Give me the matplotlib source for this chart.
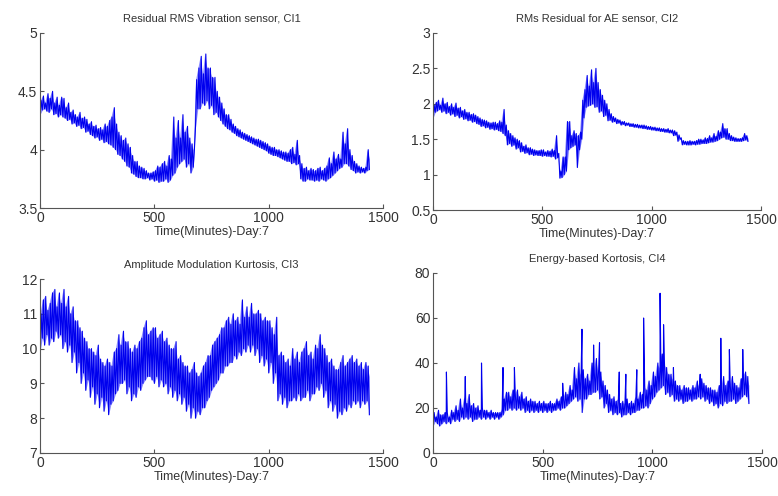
import numpy as np
import matplotlib.pyplot as plt
from matplotlib.ticker import FuncFormatter

plt.rcParams['font.family'] = ['Liberation Sans', 'DejaVu Sans']

# sample times (minutes), one low / high reading per 10-minute bin
t_bins = list(range(0, 1441, 10))

ci1_lo = [4.30, 4.34, 4.35, 4.33, 4.32, 4.35, 4.30, 4.31, 4.28, 4.30,
          4.28, 4.27, 4.25, 4.26, 4.22, 4.23, 4.20, 4.21, 4.18, 4.19,
          4.15, 4.16, 4.13, 4.12, 4.10, 4.11, 4.08, 4.09, 4.06, 4.07,
          4.05, 4.04, 4.02, 4.00, 3.96, 3.95, 3.92, 3.90, 3.86, 3.85,
          3.80, 3.79, 3.77, 3.76, 3.76, 3.75, 3.75, 3.76, 3.74, 3.75,
          3.73, 3.74, 3.72, 3.73, 3.73, 3.75, 3.72, 3.74, 3.78, 3.80,
          3.85, 3.88, 3.90, 3.92, 3.85, 3.88, 3.80, 3.85, 4.20, 4.35,
          4.35, 4.40, 4.38, 4.42, 4.35, 4.38, 4.30, 4.32, 4.28, 4.25,
          4.22, 4.20, 4.18, 4.17, 4.15, 4.14, 4.12, 4.11, 4.10, 4.09,
          4.08, 4.07, 4.06, 4.05, 4.04, 4.03, 4.02, 4.01, 4.00, 3.99,
          3.97, 3.96, 3.95, 3.95, 3.94, 3.93, 3.92, 3.91, 3.90, 3.90,
          3.88, 3.89, 3.87, 3.88, 3.75, 3.73, 3.73, 3.75, 3.74, 3.74,
          3.73, 3.74, 3.73, 3.75, 3.74, 3.73, 3.75, 3.76, 3.78, 3.80,
          3.82, 3.84, 3.85, 3.88, 3.88, 3.86, 3.83, 3.82, 3.80, 3.81,
          3.80, 3.81, 3.80, 3.82, 3.83]
ci1_hi = [4.42, 4.46, 4.40, 4.48, 4.44, 4.50, 4.40, 4.45, 4.38, 4.45,
          4.44, 4.36, 4.40, 4.32, 4.34, 4.30, 4.28, 4.32, 4.27, 4.28,
          4.26, 4.22, 4.24, 4.20, 4.21, 4.18, 4.19, 4.17, 4.22, 4.20,
          4.25, 4.28, 4.36, 4.22, 4.15, 4.12, 4.08, 4.10, 4.05, 4.02,
          3.95, 3.90, 3.90, 3.86, 3.85, 3.84, 3.82, 3.80, 3.80, 3.81,
          3.82, 3.86, 3.85, 3.88, 3.90, 3.86, 3.95, 3.92, 4.28, 4.10,
          4.25, 4.10, 4.30, 4.15, 4.20, 4.10, 4.05, 4.00, 4.60, 4.70,
          4.80, 4.65, 4.82, 4.70, 4.70, 4.62, 4.62, 4.50, 4.45, 4.40,
          4.35, 4.30, 4.30, 4.26, 4.22, 4.20, 4.18, 4.17, 4.15, 4.14,
          4.13, 4.12, 4.11, 4.10, 4.09, 4.09, 4.08, 4.07, 4.06, 4.05,
          4.03, 4.02, 4.02, 4.00, 4.00, 3.99, 3.98, 3.98, 3.97, 4.00,
          4.02, 3.96, 4.08, 3.95, 3.88, 3.84, 3.85, 3.82, 3.84, 3.83,
          3.82, 3.84, 3.85, 3.82, 3.84, 3.86, 3.93, 3.88, 3.98, 3.92,
          3.96, 3.92, 4.15, 4.05, 4.18, 4.00, 3.95, 3.90, 3.88, 3.86,
          3.85, 3.84, 3.85, 4.00, 3.92]

ci2_lo = [1.80, 1.88, 1.90, 1.92, 1.88, 1.90, 1.86, 1.88, 1.84, 1.86,
          1.82, 1.84, 1.80, 1.82, 1.78, 1.79, 1.76, 1.77, 1.74, 1.75,
          1.72, 1.71, 1.68, 1.69, 1.66, 1.67, 1.64, 1.65, 1.63, 1.64,
          1.62, 1.61, 1.58, 1.55, 1.42, 1.44, 1.40, 1.42, 1.36, 1.38,
          1.32, 1.33, 1.30, 1.31, 1.28, 1.29, 1.27, 1.28, 1.27, 1.27,
          1.26, 1.27, 1.26, 1.26, 1.25, 1.26, 1.22, 1.24, 0.95, 0.96,
          1.00, 1.05, 1.35, 1.38, 1.40, 1.42, 1.10, 1.35, 1.50, 1.80,
          1.95, 1.97, 1.98, 2.00, 1.95, 1.96, 1.88, 1.90, 1.82, 1.84,
          1.76, 1.77, 1.74, 1.75, 1.72, 1.73, 1.70, 1.71, 1.69, 1.70,
          1.68, 1.68, 1.67, 1.67, 1.66, 1.66, 1.65, 1.65, 1.64, 1.64,
          1.63, 1.63, 1.62, 1.62, 1.61, 1.61, 1.60, 1.60, 1.59, 1.59,
          1.55, 1.56, 1.47, 1.50, 1.42, 1.43, 1.42, 1.42, 1.42, 1.43,
          1.42, 1.43, 1.43, 1.44, 1.44, 1.44, 1.45, 1.46, 1.46, 1.47,
          1.48, 1.50, 1.52, 1.53, 1.50, 1.50, 1.48, 1.48, 1.47, 1.47,
          1.47, 1.47, 1.48, 1.49, 1.47]
ci2_hi = [1.98, 2.02, 2.05, 1.98, 2.08, 2.00, 2.02, 1.96, 2.00, 1.95,
          2.01, 1.94, 1.95, 1.90, 1.92, 1.88, 1.88, 1.85, 1.86, 1.84,
          1.82, 1.80, 1.78, 1.77, 1.76, 1.74, 1.73, 1.74, 1.74, 1.72,
          1.76, 1.74, 1.92, 1.70, 1.62, 1.58, 1.55, 1.52, 1.50, 1.48,
          1.45, 1.40, 1.42, 1.38, 1.38, 1.36, 1.35, 1.34, 1.34, 1.35,
          1.35, 1.32, 1.34, 1.33, 1.36, 1.34, 1.55, 1.30, 1.05, 1.25,
          1.25, 1.75, 1.75, 1.55, 1.62, 1.58, 1.55, 1.60, 2.05, 2.20,
          2.40, 2.25, 2.48, 2.30, 2.50, 2.30, 2.20, 2.12, 2.05, 2.00,
          1.92, 1.86, 1.82, 1.80, 1.78, 1.77, 1.75, 1.75, 1.73, 1.73,
          1.72, 1.72, 1.71, 1.71, 1.70, 1.70, 1.70, 1.69, 1.68, 1.68,
          1.67, 1.67, 1.66, 1.66, 1.65, 1.65, 1.64, 1.65, 1.63, 1.63,
          1.62, 1.60, 1.56, 1.52, 1.48, 1.47, 1.47, 1.48, 1.47, 1.47,
          1.48, 1.50, 1.50, 1.49, 1.52, 1.51, 1.55, 1.52, 1.58, 1.54,
          1.62, 1.60, 1.72, 1.65, 1.65, 1.58, 1.55, 1.53, 1.52, 1.51,
          1.51, 1.52, 1.58, 1.55, 1.52]

ci3_lo = [9.9, 10.3, 10.1, 10.4, 10.1, 10.3, 10.2, 10.5, 10.3, 10.4,
          10.0, 10.2, 9.9, 10.1, 9.6, 9.9, 9.3, 9.6, 9.0, 9.3,
          8.8, 9.1, 8.6, 8.9, 8.4, 8.7, 8.3, 8.6, 8.2, 8.5,
          8.1, 8.4, 8.5, 8.7, 8.8, 9.0, 9.0, 9.1, 8.7, 8.9,
          8.5, 8.7, 8.6, 8.9, 8.8, 9.0, 9.1, 9.2, 9.2, 9.1,
          9.0, 9.2, 8.9, 9.1, 8.9, 9.0, 8.7, 8.9, 8.6, 8.8,
          8.5, 8.7, 8.4, 8.6, 8.2, 8.4, 8.0, 8.3, 8.0, 8.2,
          8.1, 8.3, 8.3, 8.5, 8.6, 8.8, 8.9, 9.0, 9.1, 9.3,
          9.3, 9.5, 9.5, 9.6, 9.6, 9.8, 9.7, 9.9, 9.8, 10.0,
          9.9, 10.1, 9.9, 10.1, 9.8, 10.0, 9.6, 9.8, 9.5, 9.7,
          9.3, 9.6, 9.0, 9.3, 8.5, 8.7, 8.4, 8.6, 8.3, 8.5,
          8.5, 8.6, 8.5, 8.7, 8.5, 8.6, 8.6, 8.8, 8.5, 8.7,
          8.7, 8.9, 8.8, 9.0, 8.6, 8.8, 8.3, 8.5, 8.2, 8.4,
          8.0, 8.2, 8.1, 8.3, 8.2, 8.4, 8.3, 8.5, 8.4, 8.5,
          8.3, 8.5, 8.4, 8.5, 8.1]
ci3_hi = [11.0, 11.4, 11.5, 11.1, 11.3, 11.6, 11.7, 11.2, 11.6, 11.3,
          11.7, 11.2, 11.5, 11.0, 11.2, 10.8, 10.8, 10.6, 10.5, 10.3,
          10.2, 10.0, 10.0, 9.9, 9.8, 10.1, 9.7, 9.6, 9.5, 9.7,
          9.6, 9.5, 9.9, 10.0, 10.4, 10.1, 10.5, 10.2, 10.2, 10.0,
          9.9, 10.1, 10.0, 10.2, 10.3, 10.6, 10.8, 10.4, 10.5, 10.6,
          10.6, 10.3, 10.4, 10.5, 10.2, 10.3, 10.1, 10.0, 10.0, 10.2,
          9.7, 9.8, 9.6, 9.5, 9.5, 9.3, 9.4, 9.6, 9.3, 9.2,
          9.3, 9.5, 9.6, 9.8, 9.8, 10.1, 10.2, 10.3, 10.4, 10.6,
          10.6, 10.8, 10.9, 10.7, 11.0, 10.8, 10.9, 10.7, 11.4, 10.9,
          11.2, 10.9, 11.3, 11.0, 11.0, 11.1, 11.0, 10.8, 10.9, 10.8,
          10.8, 10.6, 10.4, 10.9, 9.8, 9.9, 9.8, 9.6, 9.7, 9.5,
          10.0, 9.7, 9.9, 9.6, 9.9, 10.0, 10.2, 9.8, 9.9, 9.7,
          10.1, 10.0, 10.4, 10.1, 10.0, 9.8, 9.6, 9.7, 9.5, 9.4,
          9.4, 9.6, 9.8, 9.5, 9.6, 9.7, 9.8, 9.6, 9.7, 9.5,
          9.6, 9.4, 9.6, 9.5, 9.2]

ci4_lo = [12, 14, 13, 12, 13, 14, 13, 14, 13, 15,
          14, 15, 14, 16, 15, 16, 15, 16, 14, 15,
          15, 16, 15, 16, 15, 16, 15, 16, 15, 16,
          15, 16, 17, 19, 19, 20, 19, 20, 19, 20,
          19, 20, 18, 19, 18, 19, 18, 19, 18, 19,
          18, 19, 18, 19, 18, 19, 19, 20, 19, 20,
          20, 21, 22, 23, 24, 25, 23, 24, 18, 24,
          24, 26, 26, 27, 27, 28, 24, 25, 20, 22,
          18, 19, 17, 18, 17, 18, 16, 17, 17, 18,
          17, 18, 18, 19, 19, 20, 20, 21, 20, 22,
          24, 25, 27, 28, 29, 30, 26, 27, 25, 26,
          23, 24, 23, 24, 22, 23, 23, 24, 23, 24,
          24, 25, 24, 25, 23, 24, 22, 23, 21, 22,
          20, 22, 21, 23, 22, 23, 23, 24, 22, 23,
          24, 25, 26, 25, 22]
ci4_hi = [18, 16, 19, 17, 17, 18, 18, 16, 19, 18,
          21, 19, 24, 20, 25, 22, 26, 21, 22, 20,
          21, 19, 20, 19, 19, 18, 19, 18, 18, 18,
          18, 19, 24, 27, 27, 25, 28, 26, 28, 25,
          27, 24, 25, 23, 24, 23, 23, 22, 23, 22,
          23, 22, 22, 23, 22, 22, 24, 23, 25, 24,
          27, 26, 30, 28, 38, 33, 40, 35, 37, 33,
          35, 32, 40, 36, 42, 37, 36, 32, 30, 28,
          26, 24, 25, 23, 24, 22, 23, 22, 24, 22,
          23, 22, 25, 24, 27, 26, 30, 28, 32, 30,
          36, 34, 40, 38, 44, 40, 38, 35, 35, 33,
          32, 30, 30, 28, 30, 29, 29, 28, 30, 29,
          32, 30, 33, 31, 30, 29, 29, 28, 28, 27,
          30, 28, 34, 30, 32, 30, 34, 31, 30, 29,
          33, 34, 36, 34, 30]

# isolated spikes in the energy-based kurtosis (minute, value)
ci4_spike_t = [61, 147, 221, 319, 371, 591, 679, 732, 759, 849, 879, 929, 960,
               1035, 1051, 1096, 1218, 1312, 1351, 1412]
ci4_spike_v = [36, 34, 40, 38, 38, 31, 55, 48, 49, 36, 35, 37, 60,
               71, 57, 38, 35, 51, 46, 46]

titles = ['Residual RMS Vibration sensor, CI1', 'RMs Residual for AE sensor, CI2',
          'Amplitude Modulation Kurtosis, CI3', 'Energy-based Kortosis, CI4']
xlabel = 'Time(Minutes)-Day:7'
y_ticks = [[3.5, 4, 4.5, 5], [0.5, 1, 1.5, 2, 2.5, 3], [7, 8, 9, 10, 11, 12],
           [0, 20, 40, 60, 80]]
x_ticks = [0, 500, 1000, 1500]

lows = [ci1_lo, ci2_lo, ci3_lo, ci4_lo]
highs = [ci1_hi, ci2_hi, ci3_hi, ci4_hi]


def trace(lo, hi, spike_t=(), spike_v=()):
    # line alternates between the low and high reading of each bin
    t = np.array(t_bins, dtype=float)
    x = np.column_stack([t, t + 5]).ravel()
    y = np.column_stack([lo, hi]).ravel()
    keep = x <= 1440
    x, y = x[keep], y[keep]
    if len(spike_t):
        x = np.concatenate([x, spike_t])
        y = np.concatenate([y, spike_v])
        order = np.argsort(x, kind='stable')
        x, y = x[order], y[order]
    return x, y


series = [trace(ci1_lo, ci1_hi), trace(ci2_lo, ci2_hi), trace(ci3_lo, ci3_hi),
          trace(ci4_lo, ci4_hi, ci4_spike_t, ci4_spike_v)]

fig = plt.figure(figsize=(7.78, 4.96), dpi=100)
rects = [[0.0514, 0.5806, 0.441, 0.3529],
         [0.5566, 0.5766, 0.4216, 0.3569],
         [0.0514, 0.0867, 0.441, 0.3508],
         [0.5566, 0.0867, 0.4229, 0.3629]]

txt = '#333333'
for i in range(4):
    ax = fig.add_axes(rects[i])
    x, y = series[i]
    # keep the core of the noise band solid, the line gives the ragged edges
    ax.fill_between(t_bins, lows[i], highs[i], color='#0000ff', alpha=0.45, lw=0)
    ax.plot(x, y, color='#0000ee', lw=0.8)
    ax.set_xlim(0, 1500)
    ax.set_ylim(y_ticks[i][0], y_ticks[i][-1])
    ax.set_xticks(x_ticks)
    ax.set_yticks(y_ticks[i])
    ax.yaxis.set_major_formatter(FuncFormatter(lambda v, p: '%g' % v))
    for s in ['top', 'right']:
        ax.spines[s].set_visible(False)
    for s in ['left', 'bottom']:
        ax.spines[s].set_color('#555555')
        ax.spines[s].set_linewidth(0.8)
    ax.tick_params(direction='in', length=3, width=0.8, color='#555555',
                   labelsize=10, labelcolor=txt, pad=2)
    ax.set_title(titles[i], fontsize=8, color=txt, pad=8)
    ax.set_xlabel(xlabel, fontsize=9, color=txt, labelpad=1)

fig.savefig('out.png', dpi=100)
